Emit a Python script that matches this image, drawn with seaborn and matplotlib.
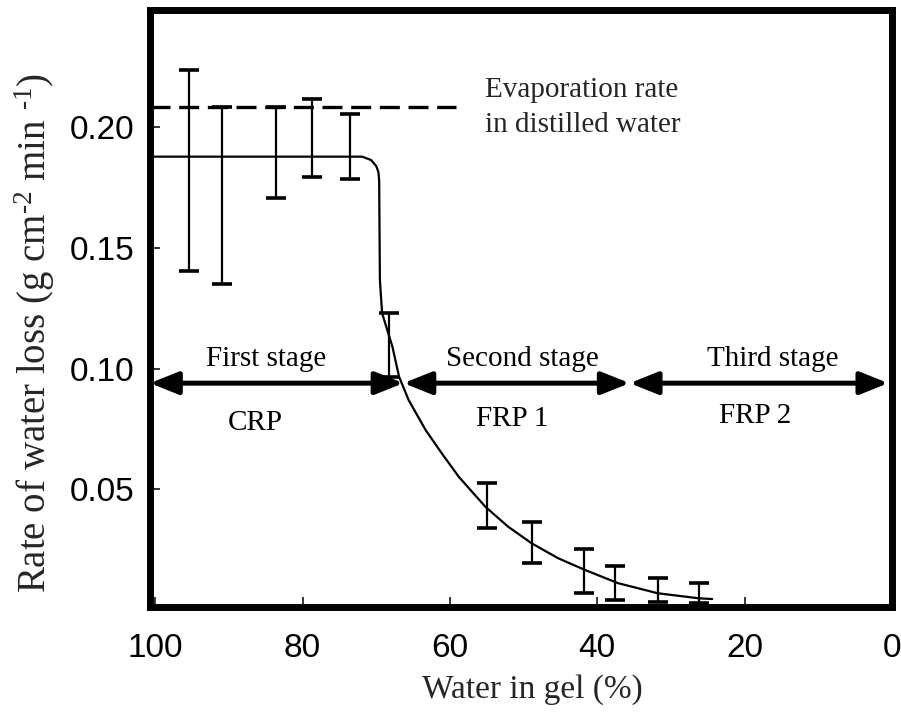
import matplotlib
matplotlib.use("Agg")
import matplotlib.pyplot as plt
import numpy as np
import pandas as pd
import seaborn as sns

# ---------------- data ----------------
curve_x = [100.7, 80.0, 71.9, 70.7, 70.0, 69.7, 69.6, 69.5, 69.2, 67.8, 66.9, 65.6,
           63.3, 61.1, 58.8, 55.2, 52.1, 48.9, 45.3, 41.7, 37.2, 31.8, 26.2, 24.4]
curve_y = [0.1879, 0.1879, 0.1879, 0.1865, 0.1840, 0.1815, 0.1780, 0.1368, 0.1230,
           0.1091, 0.0967, 0.0870, 0.0746, 0.0649, 0.0552, 0.0428, 0.0345, 0.0276,
           0.0214, 0.0166, 0.0111, 0.0069, 0.0048, 0.0045]

evap_x = [100.7, 59.2]
evap_y = [0.2083, 0.2083]

bar_x = [95.4, 90.9, 83.6, 78.7, 73.6, 68.3, 54.9, 48.8, 41.8, 37.6, 31.8, 26.2]
bar_low = [0.1405, 0.1350, 0.1709, 0.1796, 0.1785, 0.0966, 0.0340, 0.0195, 0.0070,
           0.0041, 0.0031, 0.0029]
bar_high = [0.2238, 0.2083, 0.2083, 0.2119, 0.2054, 0.1231, 0.0526, 0.0365, 0.0253,
            0.0182, 0.0133, 0.0112]

stage_bounds = [100.7, 66.3, 35.6, 0.5]
stage_level = 0.094
stage_names = ["First stage", "Second stage", "Third stage"]
phase_names = ["CRP", "FRP 1", "FRP 2"]

x_ticks = [100, 80, 60, 40, 20, 0]
y_ticks = [0.05, 0.10, 0.15, 0.20]
y_tick_labels = ["0.05", "0.10", "0.15", "0.20"]

# ---------------- layout (not data) ----------------
stage_label_x = [84.9, 50.1, 16.2]
stage_label_y = [0.1010, 0.1010, 0.1010]
phase_label_x = [86.4, 51.6, 18.6]
phase_label_y = [0.0746, 0.0764, 0.0775]

sns.set_theme(style="white")
plt.rcParams["font.family"] = ["Liberation Serif", "DejaVu Serif"]
plt.rcParams["mathtext.fontset"] = "custom"
plt.rcParams["mathtext.rm"] = "Liberation Serif"
plt.rcParams["mathtext.it"] = "Liberation Serif:italic"

fig = plt.figure(figsize=(9.01, 7.2), dpi=100)
ax = fig.add_axes([150 / 901, 1 - 607 / 720, (892 - 150) / 901, (607 - 10) / 720])

curve_df = pd.DataFrame({"x": curve_x, "y": curve_y})
evap_df = pd.DataFrame({"x": evap_x, "y": evap_y})

sns.lineplot(data=curve_df, x="x", y="y", sort=False, estimator=None, ax=ax,
             color="black", linewidth=1.6)
sns.lineplot(data=evap_df, x="x", y="y", sort=False, estimator=None, ax=ax,
             color="black", linewidth=2.4, dashes=False)
ax.lines[-1].set_dashes([6, 2.6])

bx = np.array(bar_x)
lo = np.array(bar_low)
hi = np.array(bar_high)
mid = (lo + hi) / 2
ax.errorbar(bx, mid, yerr=[mid - lo, hi - mid], fmt="none", ecolor="black",
            elinewidth=1.6, capsize=7.5, capthick=2.6)

# stage arrows
for i in range(3):
    ax.annotate("", xy=(stage_bounds[i + 1], stage_level),
                xytext=(stage_bounds[i], stage_level),
                arrowprops=dict(arrowstyle="<|-|>,head_length=0.85,head_width=0.34",
                                mutation_scale=20, color="black", lw=3.6,
                                shrinkA=0, shrinkB=0))
    ax.text(stage_label_x[i], stage_label_y[i], stage_names[i], ha="center",
            va="baseline", fontsize=21, color="black")
    ax.text(phase_label_x[i], phase_label_y[i], phase_names[i], ha="center",
            va="baseline", fontsize=21, color="black")

ax.text(55.2, 0.2127, "Evaporation rate", ha="left", va="baseline", fontsize=21)
ax.text(55.2, 0.1982, "in distilled water", ha="left", va="baseline", fontsize=21)

ax.set_xlim(100.7, 0.4)
ax.set_ylim(0.0012, 0.2487)
ax.set_xticks(x_ticks)
ax.set_xticklabels([str(t) for t in x_ticks])
ax.set_yticks(y_ticks)
ax.set_yticklabels(y_tick_labels)
ax.set_xlabel("")
ax.set_ylabel("")

for s in ax.spines.values():
    s.set_visible(True)
    s.set_linewidth(5)
    s.set_color("black")

ax.tick_params(axis="both", direction="in", length=7.5, width=1.1, color="black",
               bottom=True, left=True, top=False, right=False)
ax.tick_params(axis="x", pad=19)
ax.tick_params(axis="y", pad=11)
for lab in ax.get_xticklabels() + ax.get_yticklabels():
    lab.set_family(["Liberation Sans", "DejaVu Sans"])
    lab.set_fontsize(24)
    lab.set_color("black")

fig.text(532 / 901, 1 - 690 / 720, "Water in gel (%)", ha="center", va="center",
         fontsize=24)
fig.text(35 / 901, 1 - 333 / 720,
         r"Rate of water loss (g cm$^{\text{-2}}$ min $^{\text{-1}}$)",
         ha="center", va="center", rotation=90, fontsize=28)

fig.savefig("out.png", dpi=100)
